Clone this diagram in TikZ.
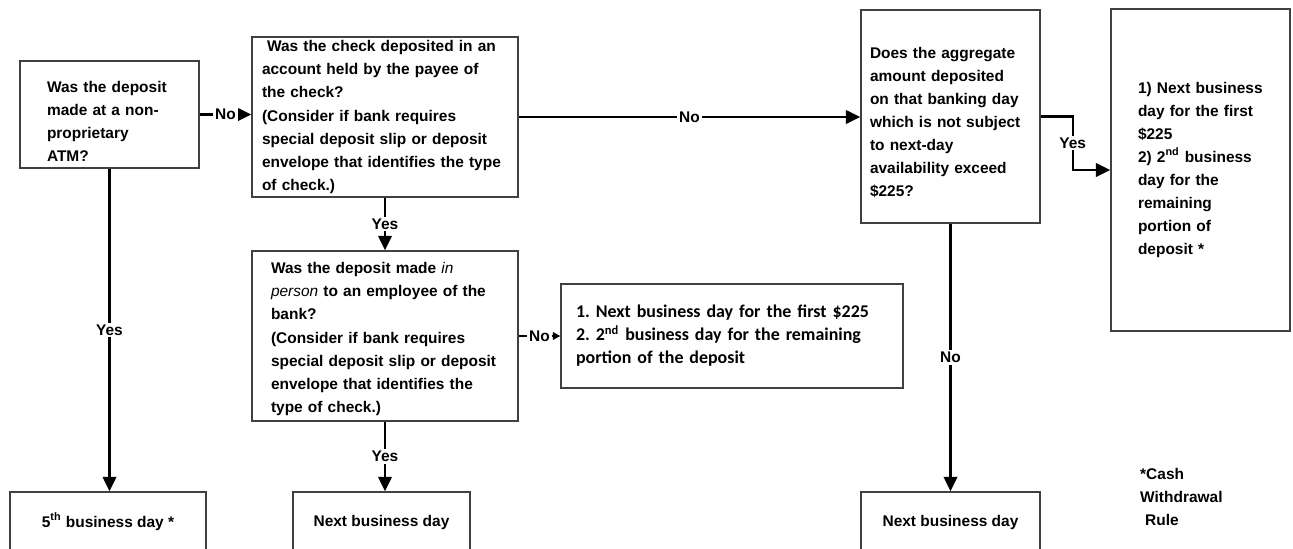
\documentclass[tikz,border=0pt]{standalone}
\usepackage{fontspec}
\setmainfont{Liberation Sans}
\newfontfamily\calfont{Carlito}
\usetikzlibrary{arrows.meta}
\frenchspacing

\begin{document}
\begin{tikzpicture}[x=0.02cm, y=-0.02cm,
        every node/.style={font=\fontsize{8.8}{13.1}\selectfont\bfseries},
        caja/.style={draw=black!75, line width=0.8pt, align=left, inner ysep=0pt},
        fin/.style={draw=black!75, line width=0.8pt, align=center, minimum height=1.2cm},
        flecha/.style={line width=1.3pt, -{Triangle[length=0.29cm, width=0.27cm]}},
        etiq/.style={fill=white, inner sep=1pt}]
    \path[use as bounding box, clip] (0,0) rectangle (1293,548);

    % Preguntas
    \node[caja, text width=2.5cm, inner xsep=0.54cm, minimum height=2.14cm] (atm) at (109.5,114.5)
        {\rule{0pt}{14.3pt}Was the deposit\\ made at a non-\\ proprietary\\ ATM?};
    \node[caja, text width=4.92cm, inner xsep=0.2cm, minimum height=3.2cm] (payee) at (385,117)
        {\hspace*{0.1cm}Was the check deposited in an\\ account held by the payee of\\ the check?\\ (Consider if bank requires\\ special deposit slip or deposit\\ envelope that identifies the type\\ of check.)};
    \node[caja, text width=4.56cm, inner xsep=0.38cm, minimum height=3.4cm] (person) at (385,336)
        {\rule{0pt}{9.8pt}Was the deposit made {\mdseries\itshape in}\\ {\mdseries\itshape person} to an employee of the\\ bank?\\ (Consider if bank requires\\ special deposit slip or deposit\\ envelope that identifies the\\ type of check.)};
    \node[caja, text width=3.22cm, inner xsep=0.18cm, minimum height=4.26cm] (aggr) at (950.5,116.5)
        {\rule{0pt}{13.5pt}Does the aggregate\\ amount deposited\\ on that banking day\\ which is not subject\\ to next-day\\ availability exceed\\ \$225?};

    % Resultados
    \node[caja, text width=6.24cm, inner xsep=0.3cm, minimum height=2.08cm,
        font=\calfont\fontsize{10.2}{13.1}\selectfont\bfseries] (split) at (732,336)
        {1. Next business day for the first \$225\\ 2. 2\textsuperscript{nd} business day for the remaining\\ portion of the deposit};
    \node[caja, text width=2.5cm, inner xsep=0.54cm, minimum height=6.44cm] (twoday) at (1200.5,170)
        {1) Next business\\ day for the first\\ \$225\\ 2) 2\textsuperscript{nd} business\\ day for the\\ remaining\\ portion of\\ deposit *};
    \node[fin, minimum width=3.92cm] (fifth) at (108,522) {5\textsuperscript{th} business day *};
    \node[fin, minimum width=3.54cm] (nextA) at (381.5,522) {Next business day};
    \node[fin, minimum width=3.58cm] (nextB) at (950.5,522) {Next business day};
    \node[align=left, anchor=west] (note) at (1134,497) {*Cash\\ Withdrawal\\ \hspace*{0.1cm}Rule};

    % Flechas
    \draw[flecha] (atm.east) -- node[etiq]{No} (atm.east -| payee.west);
    \draw[flecha] (payee.east) -- node[etiq]{No} (payee.east -| aggr.west);
    \draw[flecha] (payee.south) -- node[etiq]{Yes} (person.north);
    \draw[flecha, -{Triangle[length=0.15cm, width=0.15cm]}] (person.east) -- node[etiq]{No} (split.west);
    \draw[flecha] (person.south) -- node[etiq]{Yes} (person.south |- nextA.north);
    \draw[flecha] (atm.south) -- node[etiq]{Yes} (atm.south |- fifth.north);
    \draw[flecha] (aggr.south) -- node[etiq]{No} (nextB.north);
    \path (aggr.east) ++(32,0) coordinate (bend);
    \draw[flecha] (aggr.east) -- (bend) -- node[etiq]{Yes} (bend |- twoday.west) -- (twoday.west);
\end{tikzpicture}
\end{document}
